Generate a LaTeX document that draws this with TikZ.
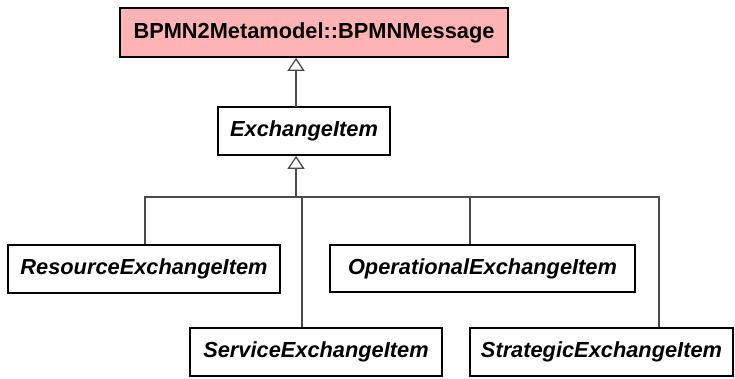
\documentclass[tikz,border=0pt]{standalone}
\usepackage{fontspec}
\setmainfont{Liberation Sans}
\usepackage{xcolor}
\usepackage{tikz}
\usetikzlibrary{arrows.meta,positioning,calc}

\definecolor{msgred}{HTML}{FFB3B3}
\definecolor{linkgray}{HTML}{4A4A4A}

\begin{document}
\begin{tikzpicture}[
  x=1pt, y=-1pt,
  cls/.style={draw, line width=1.7pt, inner sep=0pt, fill=white,
              font=\fontsize{21.8}{24}\selectfont\bfseries\itshape},
  msgcls/.style={cls, fill=msgred, font=\fontsize{21.8}{24}\selectfont\bfseries},
  gen/.style={-{Triangle[open, length=13pt, width=17pt, line width=1.3pt]}, linkgray, line width=1.5pt},
  link/.style={linkgray, line width=1.5pt}
]
\useasboundingbox (0,0) rectangle (735,378);

\node[msgcls, minimum width=388pt, minimum height=49pt] (msg) at (314,32.5) {BPMN2Metamodel::BPMNMessage};
\node[cls, minimum width=172pt, minimum height=48pt] (ei) at (304,131) {ExchangeItem};

\node[cls, minimum width=272pt, minimum height=48pt] (res) at (144,269) {ResourceExchangeItem};
\node[cls, minimum width=305pt, minimum height=47pt] (ops) at (482.5,268.5) {OperationalExchangeItem};
\node[cls, minimum width=252pt, minimum height=48pt] (srv) at (316,352) {ServiceExchangeItem};
\node[cls, minimum width=263pt, minimum height=48pt] (str) at (601.5,352) {StrategicExchangeItem};

% the generalisation tree
\coordinate (top) at (296,107);
\coordinate (bar) at (296,197);
\coordinate (b1) at (145,197);
\coordinate (b2) at (302,197);
\coordinate (b3) at (470,197);
\coordinate (b4) at (659,197);

\draw[gen] (top) -- (top |- msg.south);
\draw[gen] (bar) -- (bar |- ei.south);
\draw[link] (b1 |- res.north) -- (b1) -- (b4) -- (b4 |- str.north);
\draw[link] (b2) -- (b2 |- srv.north);
\draw[link] (b3) -- (b3 |- ops.north);
\end{tikzpicture}
\end{document}
